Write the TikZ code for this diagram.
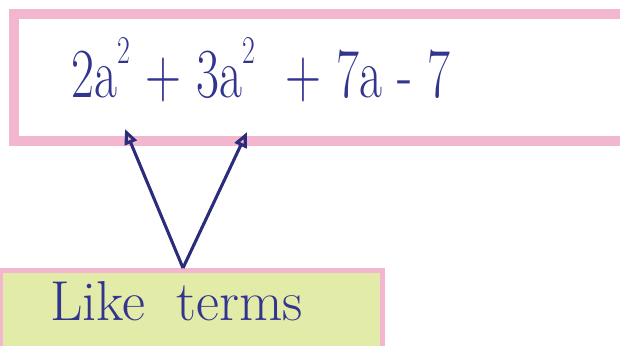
\documentclass[tikz,border=0pt]{standalone}
\usepackage{graphicx}
\usepackage{tikz}
\usetikzlibrary{arrows.meta, positioning, calc}

\definecolor{framepink}{HTML}{F3B6CF}
\definecolor{inkblue}{HTML}{33348F}
\definecolor{limefill}{HTML}{E2EBA8}
\newcommand{\sqtwo}{\raisebox{24pt}{\fontsize{28}{28}\selectfont 2}}

\begin{document}
\begin{tikzpicture}[
    x=0.025cm, y=-0.025cm,
    frame/.style={draw=framepink, line width=0.25cm, rectangle, inner sep=0pt},
    likebox/.style={draw=framepink, fill=limefill, line width=0.125cm, rectangle, inner sep=0pt},
    bigtext/.style={text=inkblue, inner sep=0pt, anchor=base},
    link/.style={draw=inkblue!85!black, line width=2.2pt, -{Triangle[open, length=0.38cm, width=0.32cm]}}
]
    \useasboundingbox (0,0) rectangle (620,345);
    \clip (0,0) rectangle (620,345);

    % boxes
    \node[frame, minimum width=15.9cm, minimum height=3.175cm] (frame) at (332.5,77.5) {};
    \node[likebox, minimum width=9.55cm, minimum height=2.24cm] (likebox) at (191.5,315) {};

    % texts
    \node[bigtext, font=\fontsize{50}{60}\selectfont] (expr) at (261,97)
        {\scalebox{0.71}[1]{2a\sqtwo\ + 3a\sqtwo\ \ + 7a - 7}};
    \node[bigtext, font=\fontsize{40}{48}\selectfont] (like) at (176.5,320)
        {Like\hspace{0.55em}terms};

    % arrows
    \coordinate (vertex) at (183,268);
    \coordinate (tipA) at (125,129);
    \coordinate (tipB) at (247,132);
    \draw[link] (vertex) -- (tipA);
    \draw[link] (vertex) -- (tipB);
\end{tikzpicture}
\end{document}
